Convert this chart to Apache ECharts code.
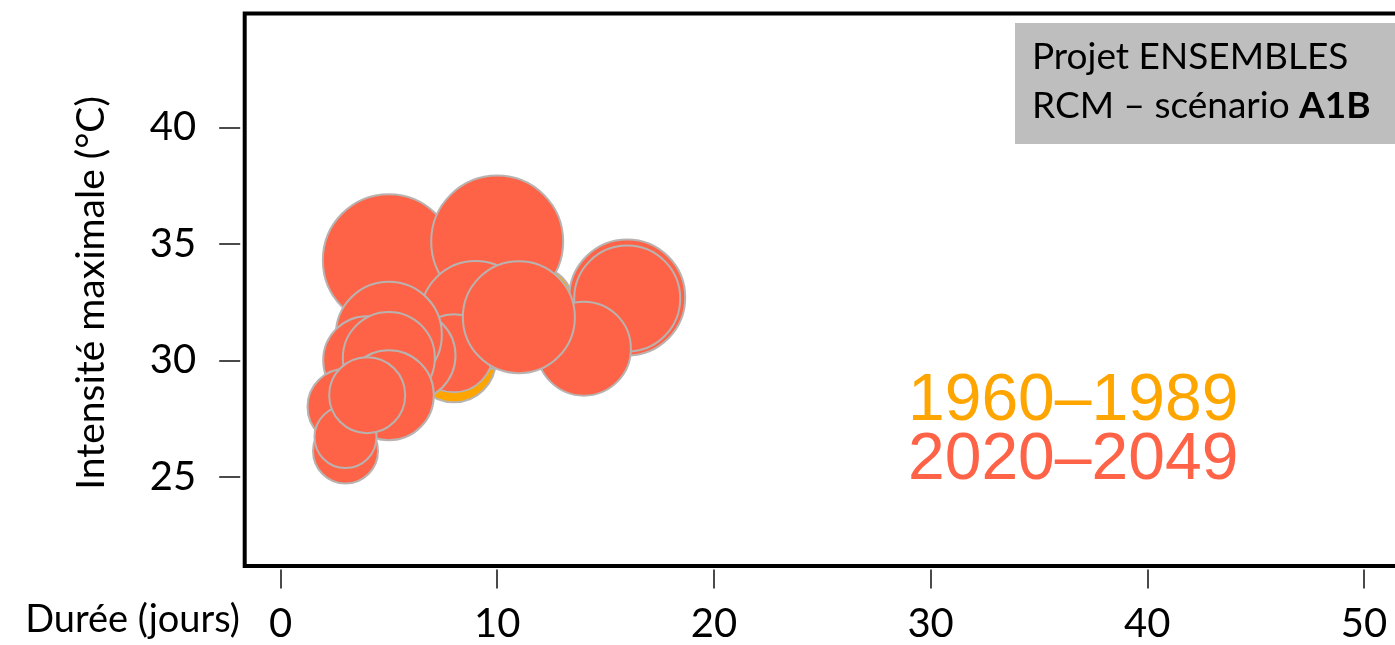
<!DOCTYPE html>
<html>
<head>
<meta charset="utf-8">
<script src="https://cdn.jsdelivr.net/npm/echarts@6/dist/echarts.min.js"></script>
<style>
  html, body { margin: 0; padding: 0; background: #ffffff; }
  #chart { width: 1395px; height: 645px; }
</style>
</head>
<body>
<div id="chart"></div>
<script>
// Vagues de chaleur : durée (jours), intensité maximale (°C) et ampleur relative (taille du cercle)
const duree19601989 = [8, 12];
const intensite19601989 = [30.0, 32.6];
const ampleur19601989 = [4.2, 3.12];

const duree20202049 = [5, 10, 16, 16, 14, 9, 8, 11, 6, 5, 4, 5, 5, 3, 3, 3, 4];
const intensite20202049 = [34.3, 35.1, 32.7, 32.65, 30.5, 31.9, 30.3, 31.85, 30.2, 31.1, 30.0, 30.1, 28.5, 28.0, 26.1, 26.7, 28.5];
const ampleur20202049 = [6.6, 6.6, 5.8, 5.3, 4.7, 5.5, 3.9, 5.6, 4.5, 5.3, 4.4, 4.6, 4.5, 3.8, 3.25, 3.1, 3.8];

const ticksDuree = [0, 10, 20, 30, 40, 50];
const ticksIntensite = [25, 30, 35, 40];

const periodes = ['1960\u20131989', '2020\u20132049'];
const couleurs = ['#FFA500', '#FF6347'];

function points(xs, ys, ss) {
  return xs.map((x, i) => [x, ys[i], ss[i]]);
}

const FONT = 'Lato';

const chart = echarts.init(document.getElementById('chart'), null, { renderer: 'canvas' });

const bubbleStyle = (color) => ({
  color: color,
  opacity: 1,
  borderColor: '#b8b3b0',
  borderWidth: 2
});

chart.setOption({
  animation: false,
  backgroundColor: '#ffffff',
  grid: {
    show: true,
    left: 244.7,
    top: 13.5,
    width: 1170,
    height: 552.5,
    outerBoundsMode: 'none',
    containLabel: false,
    borderColor: '#000000',
    borderWidth: 4,
    backgroundColor: 'transparent'
  },
  xAxis: {
    type: 'value',
    min: -1.652,
    max: 52.34,
    offset: 3.5,
    axisLine: { show: false, onZero: false },
    splitLine: { show: false },
    axisTick: {
      show: true,
      length: 19,
      customValues: ticksDuree,
      lineStyle: { color: '#4a4a4a', width: 2 }
    },
    axisLabel: {
      customValues: ticksDuree,
      margin: 35,
      color: '#000000',
      fontFamily: FONT,
      fontSize: 40
    }
  },
  yAxis: {
    type: 'value',
    min: 21.16,
    max: 44.9,
    offset: 4.5,
    axisLine: { show: false, onZero: false },
    splitLine: { show: false },
    axisTick: {
      show: true,
      length: 21,
      customValues: ticksIntensite,
      lineStyle: { color: '#4a4a4a', width: 2 }
    },
    axisLabel: {
      customValues: ticksIntensite,
      margin: 44,
      color: '#000000',
      fontFamily: FONT,
      fontSize: 40
    }
  },
  legend: {
    orient: 'vertical',
    left: 903,
    top: 369,
    padding: 0,
    itemGap: -7,
    itemWidth: 0,
    itemHeight: 58,
    icon: 'none',
    selectedMode: false,
    textStyle: {
      fontFamily: 'Liberation Sans',
      fontSize: 66,
      lineHeight: 58
    },
    data: periodes.map((p, i) => ({ name: p, textStyle: { color: couleurs[i] } }))
  },
  graphic: [
    {
      type: 'text',
      x: 91,
      y: 293,
      rotation: Math.PI / 2,
      style: {
        text: 'Intensité maximale (°C)',
        fill: '#000000',
        font: '39px Lato',
        textAlign: 'center',
        textVerticalAlign: 'middle'
      }
    },
    {
      type: 'text',
      x: 240,
      y: 620,
      style: {
        text: 'Durée (jours)',
        fill: '#000000',
        font: '38px Lato',
        textAlign: 'right',
        textVerticalAlign: 'middle'
      }
    },
    {
      type: 'rect',
      x: 1015,
      y: 23,
      z: 10,
      shape: { width: 420, height: 121 },
      style: { fill: '#bebebe' }
    },
    {
      type: 'text',
      x: 1032,
      y: 57,
      z: 11,
      style: {
        text: 'Projet ENSEMBLES',
        fill: '#000000',
        font: '37px Lato',
        textAlign: 'left',
        textVerticalAlign: 'middle'
      }
    },
    {
      type: 'text',
      x: 1032,
      y: 106,
      z: 11,
      style: {
        text: '{n|RCM \u2013 scénario }{b|A1B}',
        textAlign: 'left',
        textVerticalAlign: 'middle',
        rich: {
          n: { fontFamily: 'Lato', fontSize: 37, fill: '#000000', color: '#000000' },
          b: { fontFamily: 'Lato', fontSize: 37, fontWeight: 'bold', fill: '#000000', color: '#000000' }
        }
      }
    }
  ],
  series: [
    {
      name: periodes[0],
      type: 'scatter',
      z: 2,
      data: points(duree19601989, intensite19601989, ampleur19601989),
      symbolSize: (v) => v[2] * 20,
      itemStyle: bubbleStyle(couleurs[0]),
      emphasis: { disabled: true }
    },
    {
      name: periodes[1],
      type: 'scatter',
      z: 3,
      data: points(duree20202049, intensite20202049, ampleur20202049),
      symbolSize: (v) => v[2] * 20,
      itemStyle: bubbleStyle(couleurs[1]),
      emphasis: { disabled: true }
    }
  ]
});
</script>
</body>
</html>
